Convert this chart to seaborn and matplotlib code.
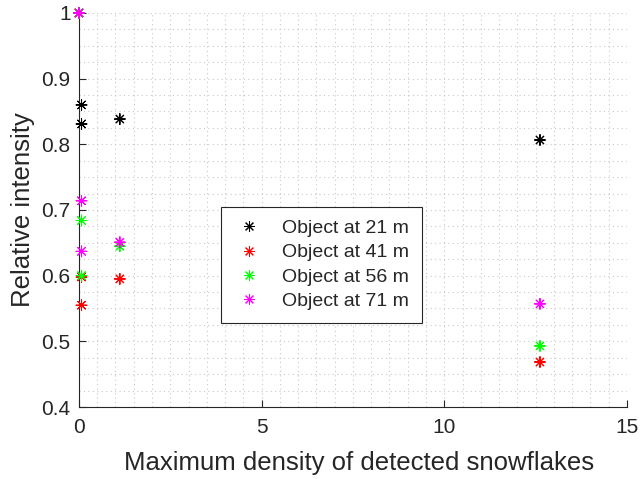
import numpy as np
import pandas as pd
import matplotlib
matplotlib.use("Agg")
import matplotlib.pyplot as plt
import seaborn as sns
from matplotlib.ticker import MultipleLocator, FormatStrFormatter

density = [0.0, 0.07, 0.07, 1.12, 12.62]
obj_21 = [1.0, 0.860, 0.831, 0.8385, 0.8066]
obj_41 = [1.0, 0.598, 0.555, 0.595, 0.4685]
obj_56 = [1.0, 0.600, 0.684, 0.645, 0.493]
obj_71 = [1.0, 0.714, 0.637, 0.651, 0.557]
labels = ["Object at 21 m", "Object at 41 m", "Object at 56 m", "Object at 71 m"]
colors = ["#000000", "#ff0000", "#00ff00", "#ff00ff"]

rows = []
for lab, vals in zip(labels, [obj_21, obj_41, obj_56, obj_71]):
    for x, y in zip(density, vals):
        rows.append({"density": x, "intensity": y, "series": lab})
df = pd.DataFrame(rows)

sns.set_style("white")
plt.rcParams["font.family"] = ["Liberation Sans", "DejaVu Sans"]

fig = plt.figure(figsize=(6.41, 4.79), dpi=100)
ax = fig.add_axes([0.1232, 0.1503, 0.8548, 0.8226])

sns.scatterplot(data=df, x="density", y="intensity", hue="series",
                palette=colors, hue_order=labels, marker=(8, 2, 0), s=60,
                linewidth=0.75, ax=ax, legend=True, zorder=3, clip_on=False)

ax.set_xlim(0, 15)
ax.set_ylim(0.4, 1.0)
ax.xaxis.set_major_locator(MultipleLocator(5))
ax.xaxis.set_minor_locator(MultipleLocator(0.5))
ax.yaxis.set_major_locator(MultipleLocator(0.1))
ax.yaxis.set_minor_locator(MultipleLocator(0.025))
ax.yaxis.set_major_formatter(FormatStrFormatter("%g"))
ax.grid(True, which="both", linestyle=(0, (1, 3)), color="#c8c8c8", linewidth=0.8)
ax.set_axisbelow(True)
for s in ["top", "right"]:
    ax.spines[s].set_visible(False)
for s in ["left", "bottom"]:
    ax.spines[s].set_color("#262626")
    ax.spines[s].set_linewidth(0.8)
ax.tick_params(which="major", direction="in", length=5, width=0.8,
               colors="#262626", labelsize=15, left=True, bottom=True)
ax.tick_params(axis="x", which="major", pad=8)
ax.tick_params(axis="y", which="major", pad=6)
ax.tick_params(which="minor", length=0, left=False, bottom=False)
ax.set_xlabel("Maximum density of detected snowflakes", fontsize=18.5, color="#262626", labelpad=10)
ax.set_ylabel("Relative intensity", fontsize=18.5, color="#262626", labelpad=5)
ax.xaxis.label.set_x(0.511)

leg = ax.legend(loc="upper left", bbox_to_anchor=(0.259, 0.5076), fontsize=14,
                frameon=True, fancybox=False, edgecolor="#262626", framealpha=1,
                borderpad=0.65, labelspacing=0.34, handletextpad=0.9,
                handlelength=1.6, borderaxespad=0)
leg.get_frame().set_linewidth(0.8)

fig.savefig("out.png", dpi=100)
